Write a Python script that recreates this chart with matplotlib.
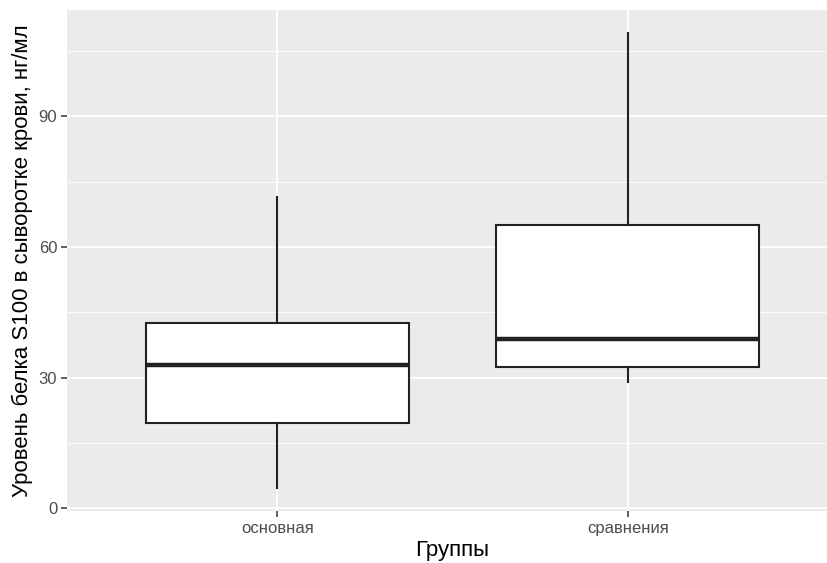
import matplotlib.pyplot as plt
from matplotlib.ticker import MultipleLocator

# Summary statistics of S100 for each group
groups = ["основная", "сравнения"]
whisker_low = [4.6, 29.0]
q1 = [19.5, 32.4]
median = [32.9, 38.9]
q3 = [42.5, 65.1]
whisker_high = [71.5, 109.2]

plt.rcParams['font.family'] = ['Liberation Sans', 'DejaVu Sans']

fig = plt.figure(figsize=(8.27, 5.63), dpi=100)
W, H = 827, 563
# panel runs off the right edge of the image
left, right, top, bottom = 67, 838, 10, 511
ax = fig.add_axes([left / W, 1 - bottom / H, (right - left) / W, (bottom - top) / H])

stats = []
for i in range(len(groups)):
    stats.append({
        'whislo': whisker_low[i], 'q1': q1[i], 'med': median[i],
        'q3': q3[i], 'whishi': whisker_high[i], 'fliers': [],
    })

line_col = '#222222'
ax.bxp(stats, positions=range(1, len(groups) + 1), widths=0.75,
       showcaps=False, patch_artist=True,
       boxprops=dict(facecolor='white', edgecolor=line_col, linewidth=1.5),
       whiskerprops=dict(color=line_col, linewidth=1.5),
       medianprops=dict(color=line_col, linewidth=3.2, solid_capstyle='butt'),
       zorder=3)

# ggplot-like grey panel
ax.set_facecolor('#EBEBEB')
for s in ax.spines.values():
    s.set_visible(False)

lo = min(whisker_low)
hi = max(whisker_high)
pad = (hi - lo) * 0.05
ax.set_ylim(lo - pad, hi + pad)
ax.set_xlim(0.4, 2.6)

ax.yaxis.set_major_locator(MultipleLocator(30))
ax.yaxis.set_minor_locator(MultipleLocator(15))
ax.grid(which='major', color='white', linewidth=1.3, zorder=0)
ax.grid(which='minor', axis='y', color='white', linewidth=0.6, zorder=0)
ax.set_axisbelow(True)

ax.set_xticks(range(1, len(groups) + 1))
ax.set_xticklabels(groups)
ax.tick_params(axis='both', which='major', length=4, width=1.1, color='#333333',
               labelcolor='#4D4D4D', labelsize=12, pad=3)
ax.tick_params(axis='y', which='minor', length=0)

ax.set_xlabel('Группы', fontsize=16, color='black', labelpad=3)
ax.set_ylabel('Уровень белка S100 в сыворотке крови, нг/мл', fontsize=16,
              color='black', labelpad=4)

fig.savefig('out.png', dpi=100)
